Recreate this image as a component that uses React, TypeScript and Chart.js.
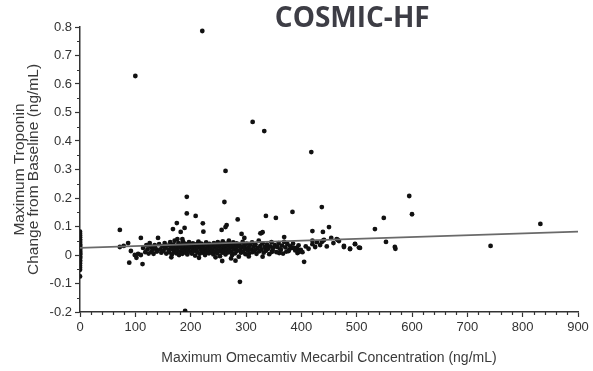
import React, { useEffect, useRef } from "react";
import { Chart, registerables } from "chart.js";

Chart.register(...registerables);

const chartTitle = "COSMIC-HF";
const xAxisTitle = "Maximum Omecamtiv Mecarbil Concentration (ng/mL)";
const yAxisTitle = ["Maximum Troponin", "Change from Baseline (ng/mL)"];

// Patients with zero concentration (at x = 0)
const axisPoints: number[] = [
  0.082, 0.075, 0.068, 0.062, 0.055, 0.05, 0.046, 0.042, 0.038, 0.034, 0.03,
  0.027, 0.024, 0.021, 0.018, 0.015, 0.012, 0.009, 0.006, 0.003, 0.0, -0.004,
  -0.008, -0.012, -0.018, -0.024, -0.03, -0.038, -0.045, -0.052, -0.075,
];

// Sparse / outlying points [concentration, troponin change]
const outlierPoints: [number, number][] = [
  [100, 0.628], [221, 0.786], [312, 0.467], [333, 0.435], [263, 0.295], [418, 0.361],
  [193, 0.204], [261, 0.186], [193, 0.146], [209, 0.137], [222, 0.111], [175, 0.112],
  [168, 0.091], [182, 0.081], [189, 0.095], [223, 0.082], [285, 0.125], [265, 0.105],
  [263, 0.098], [256, 0.088], [292, 0.074], [297, 0.06], [336, 0.137], [354, 0.13],
  [384, 0.151], [330, 0.08], [326, 0.076], [437, 0.168], [595, 0.207], [600, 0.143],
  [549, 0.13], [533, 0.091], [832, 0.109], [742, 0.032], [450, 0.098], [420, 0.084],
  [439, 0.081], [454, 0.06], [466, 0.053], [439, 0.05], [420, 0.05], [420, 0.038],
  [425, 0.028], [477, 0.032], [488, 0.022], [497, 0.038], [504, 0.026], [553, 0.046],
  [569, 0.028], [570, 0.022], [405, -0.024], [369, 0.063], [369, 0.046], [387, 0.025],
  [393, 0.018], [399, 0.018], [373, 0.012], [363, 0.018], [393, 0.007],
  [289, -0.094], [190, -0.196], [89, -0.027], [113, -0.032], [257, -0.021], [281, -0.02],
  [72, 0.088], [72, 0.028], [79, 0.032], [87, 0.042], [92, 0.014], [99, 0.0],
  [102, -0.01], [105, 0.004], [110, 0.06], [114, 0.025], [110, 0.0], [120, 0.035],
  [126, 0.042], [129, 0.028], [129, 0.011], [135, 0.035], [138, 0.018], [141, 0.06],
  [176, 0.056], [185, 0.056], [328, 0.077], [437, 0.046], [347, 0.011], [360, 0.007],
  [378, 0.018], [383, 0.025], [392, 0.025], [396, 0.011], [464, 0.056], [468, 0.049],
  [477, 0.028], [488, 0.021], [497, 0.039], [506, 0.025], [441, 0.053],
];

// Dense cluster of treated patients
const clusterPoints: [number, number][] = [
  [118, 0.01], [122, 0.02], [124, 0.005], [127, 0.03], [131, 0.018], [133, 0.004],
  [136, 0.026], [139, 0.012], [143, 0.038], [145, 0.02], [147, 0.008], [149, 0.03],
  [151, 0.015], [153, 0.042], [154, 0.025], [156, 0.005], [158, 0.033], [160, 0.018],
  [161, 0.01], [163, 0.045], [164, 0.028], [166, 0.002], [167, 0.02], [169, 0.036],
  [170, 0.012], [171, 0.05], [172, 0.024], [174, 0.006], [175, 0.032], [176, 0.017],
  [178, 0.042], [179, 0.0], [180, 0.027], [181, 0.011], [183, 0.036], [184, 0.021],
  [185, 0.004], [186, 0.048], [187, 0.03], [188, 0.015], [190, 0.039], [191, 0.008],
  [192, 0.024], [193, 0.033], [194, 0.002], [195, 0.018], [197, 0.045], [198, 0.028],
  [199, 0.012], [201, 0.035], [202, 0.005], [203, 0.022], [204, 0.041], [206, 0.015],
  [207, 0.03], [208, -0.002], [209, 0.02], [211, 0.038], [212, 0.01], [213, 0.026],
  [214, 0.047], [216, 0.004], [217, 0.032], [218, 0.018], [219, 0.04], [221, 0.008],
  [222, 0.028], [223, 0.014], [225, 0.036], [226, 0.0], [227, 0.022], [228, 0.044],
  [229, 0.012], [231, 0.03], [232, 0.019], [233, 0.006], [234, 0.039], [236, 0.025],
  [237, 0.01], [238, 0.033], [239, 0.016], [241, 0.002], [242, 0.042], [243, 0.028],
  [244, 0.012], [246, 0.034], [247, 0.02], [248, 0.006], [249, 0.045], [251, 0.03],
  [252, 0.015], [253, -0.004], [254, 0.038], [255, 0.022], [257, 0.008], [258, 0.048],
  [259, 0.032], [260, 0.014], [262, 0.026], [263, 0.002], [264, 0.04], [265, 0.018],
  [267, 0.033], [268, 0.009], [269, 0.05], [270, 0.024], [272, 0.038], [273, 0.012],
  [274, 0.028], [275, 0.0], [277, 0.044], [278, 0.02], [279, 0.034], [280, 0.006],
  [282, 0.026], [283, 0.041], [284, 0.015], [286, 0.03], [287, -0.006], [288, 0.037],
  [290, 0.018], [291, 0.008], [293, 0.029], [294, 0.046], [295, 0.012], [297, 0.034],
  [298, 0.022], [299, 0.003], [301, 0.04], [303, 0.016], [304, 0.027], [306, 0.006],
  [307, 0.035], [309, 0.02], [311, 0.044], [312, 0.01], [314, 0.03], [316, 0.017],
  [317, 0.038], [319, 0.004], [321, 0.025], [323, 0.05], [324, 0.013], [326, 0.032],
  [328, 0.02], [330, 0.041], [332, 0.008], [334, 0.028], [336, 0.015], [338, 0.036],
  [340, 0.022], [342, 0.003], [344, 0.03], [346, 0.045], [348, 0.017], [350, 0.026],
  [352, 0.035], [355, 0.01], [357, 0.028], [359, 0.042], [362, 0.02], [365, 0.033],
  [367, 0.005], [371, 0.027], [375, 0.038], [377, 0.014], [380, 0.03], [385, 0.04],
  [389, 0.016], [395, 0.034], [402, 0.01], [408, 0.03], [413, 0.022], [428, 0.045],
  [434, 0.035], [446, 0.03], [458, 0.042], [165, -0.008], [215, -0.01], [245, -0.008],
  [273, -0.012], [305, -0.005], [330, -0.006],
];

// Regression line endpoints
const fitX: number[] = [0, 900];
const fitY: number[] = [0.025, 0.082];

const xMin = 0;
const xMax = 900;
const xStep = 100;
const xMinorStep = 20;
const yMin = -0.2;
const yMax = 0.8;
const yStep = 0.1;
const yMinorStep = 0.05;

const AXIS_COLOR = "#333";
const TEXT_FONT = "'Liberation Sans', Arial, sans-serif";

export default function App() {
  const canvasRef = useRef<HTMLCanvasElement | null>(null);

  useEffect(() => {
    if (!canvasRef.current) return;

    const points = [
      ...axisPoints.map((y) => ({ x: 0, y })),
      ...outlierPoints.map(([x, y]) => ({ x, y })),
      ...clusterPoints.map(([x, y]) => ({ x, y })),
    ];

    const minorTicks = {
      id: "minorTicks",
      afterDraw(chart: any) {
        const { ctx, scales } = chart;
        const xs = scales.x;
        const ys = scales.y;
        ctx.save();
        ctx.strokeStyle = AXIS_COLOR;
        ctx.lineWidth = 1.2;
        ctx.beginPath();
        for (let v = xMin + xMinorStep; v < xMax; v += xMinorStep) {
          if (Math.abs(v / xStep - Math.round(v / xStep)) < 1e-6) continue;
          const px = Math.round(xs.getPixelForValue(v)) + 0.5;
          ctx.moveTo(px, xs.top);
          ctx.lineTo(px, xs.top + 3);
        }
        for (let v = yMin + yMinorStep; v < yMax; v += yStep) {
          const py = Math.round(ys.getPixelForValue(v)) + 0.5;
          ctx.moveTo(ys.right - 3, py);
          ctx.lineTo(ys.right, py);
        }
        ctx.stroke();
        ctx.fillStyle = "#3d3d45";
        ctx.font = "bold 28px 'Open Sans', 'Noto Sans', sans-serif";
        ctx.textAlign = "center";
        ctx.textBaseline = "middle";
        ctx.fillText(chartTitle, chart.width * 0.594, 19);
        ctx.restore();
      },
    };

    const chart = new Chart(canvasRef.current, {
      type: "scatter",
      data: {
        datasets: [
          {
            type: "line",
            data: fitX.map((x, i) => ({ x, y: fitY[i] })),
            borderColor: "#6a6a6a",
            borderWidth: 1.6,
            pointRadius: 0,
            fill: false,
          } as any,
          {
            data: points,
            backgroundColor: "#111",
            borderWidth: 0,
            pointRadius: 2.4,
          },
        ],
      },
      options: {
        responsive: false,
        animation: false,
        layout: { padding: { top: 27, right: 15, bottom: 0, left: 0 } },
        plugins: {
          legend: { display: false },
          tooltip: { enabled: false },
          title: { display: false },
        },
        scales: {
          x: {
            type: "linear",
            min: xMin,
            max: xMax,
            afterFit: (s: any) => {
              s.height = 59;
            },
            ticks: {
              stepSize: xStep,
              color: AXIS_COLOR,
              font: { family: TEXT_FONT, size: 13 },
              padding: 3,
              maxRotation: 0,
            },
            grid: {
              drawOnChartArea: false,
              drawTicks: true,
              tickLength: 5,
              tickColor: AXIS_COLOR,
              tickWidth: 1.2,
            },
            border: { display: true, color: AXIS_COLOR, width: 1.5 },
            title: {
              display: true,
              text: xAxisTitle,
              color: "#3a3a3a",
              font: { family: TEXT_FONT, size: 14, lineHeight: 1.2 },
              padding: { top: 0, bottom: 4 },
            },
          },
          y: {
            type: "linear",
            min: yMin,
            max: yMax,
            afterFit: (s: any) => {
              s.width = 80;
            },
            ticks: {
              stepSize: yStep,
              color: AXIS_COLOR,
              font: { family: TEXT_FONT, size: 13 },
              padding: 3,
              callback: (v: any) => String(Number(Number(v).toFixed(1))),
            },
            grid: {
              drawOnChartArea: false,
              drawTicks: true,
              tickLength: 5,
              tickColor: AXIS_COLOR,
              tickWidth: 1.2,
            },
            border: { display: true, color: AXIS_COLOR, width: 1.5 },
            title: {
              display: true,
              text: yAxisTitle,
              color: "#3a3a3a",
              font: { family: TEXT_FONT, size: 15.5, lineHeight: 0.95 },
              padding: { top: 12, bottom: 0 },
            },
          },
        },
      },
      plugins: [minorTicks],
    });

    return () => chart.destroy();
  }, []);

  return (
    <div
      style={{
        position: "fixed",
        left: 0,
        top: 0,
        width: 593,
        height: 371,
        background: "#fff",
      }}
    >
      <canvas
        ref={canvasRef}
        width={593}
        height={371}
        style={{ display: "block", width: 593, height: 371 }}
      />
    </div>
  );
}
